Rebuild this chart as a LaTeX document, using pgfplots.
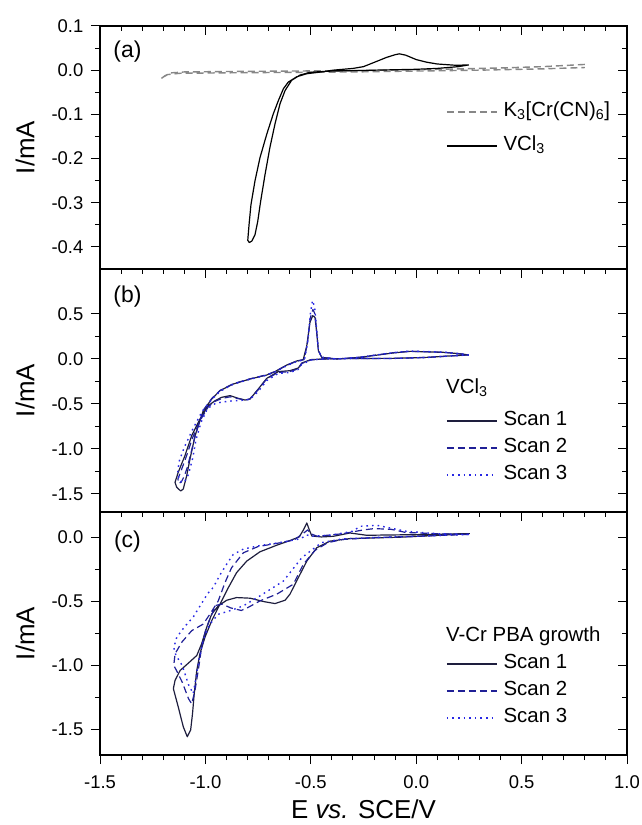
\documentclass[border=0pt]{standalone}
\usepackage{fontspec}
\setmainfont{Liberation Sans}
\usepackage{pgfplots}
\pgfplotsset{compat=1.18}
\definecolor{scanA}{RGB}{30,30,62}
\definecolor{scanB}{RGB}{32,32,150}
\definecolor{scanC}{RGB}{40,40,228}
\definecolor{kgray}{RGB}{135,135,135}
\pgfplotsset{
  cv/.style={
    width=527bp, height=243bp, scale only axis,
    xmin=-1.5, xmax=1.0,
    xtick={-1.5,-1.0,-0.5,0,0.5,1.0},
    minor x tick num=4, minor y tick num=1,
    tick align=center,
    major tick length=9bp, minor tick length=5bp,
    every major x tick/.append style={yshift=-4.5bp},
    every minor x tick/.append style={yshift=-2.5bp},
    every major y tick/.append style={xshift=-4.5bp},
    every minor y tick/.append style={xshift=-2.5bp},
    every tick/.append style={line width=1bp, black},
    axis line style={line width=1.1bp},
    ticklabel style={font=\fontsize{18.5}{18.5}\selectfont},
    /pgf/number format/assume math mode=true,
    /pgf/number format/fixed, /pgf/number format/fixed zerofill,
    /pgf/number format/precision=1,
    yticklabel style={anchor=east, inner sep=0pt, xshift=-12bp},
    xticklabel style={anchor=north, inner sep=0pt, yshift=-16bp},
    ylabel={I/mA},
    ylabel style={at={(axis description cs:-0.142,0.5)}, anchor=center, font=\fontsize{26}{26}\selectfont},
    xlabel style={at={(axis description cs:0.5,-0.262)}, anchor=base, inner sep=0pt, font=\fontsize{26}{26}\selectfont},
    legend cell align=left,
    legend image code/.code={\draw[##1] (0bp,0bp) -- (50bp,0bp);},
    every axis plot/.append style={line width=1.2bp, line join=round},
  },
  leg/.style={legend style={at={(axis description cs:0.6565,#1)}, anchor=west, draw=none, fill=none,
     inner sep=0pt, row sep=8.5bp, column sep=6bp,
     nodes={inner sep=0pt, text height=14bp, text depth=4.5bp, font=\fontsize{20.5}{20.5}\selectfont}}},
}
\begin{document}
\begin{tikzpicture}
\useasboundingbox (0,0) rectangle (642bp,825bp);
% ---------------- panel (a)
\begin{axis}[cv, at={(100bp,556bp)}, anchor=south west,
  ymin=-0.45, ymax=0.1, ytick={-0.4,-0.3,-0.2,-0.1,0,0.1}, xticklabels={},
  leg=0.576, legend style={row sep=15.5bp}]
\addplot[kgray, dash pattern=on 7bp off 4bp, line width=1.4bp] coordinates {
(0.80,0.013) (0.60,0.008) (0.40,0.005) (0.20,0.003) (0.00,0.001) (-0.30,-0.001) (-0.60,-0.002)
(-0.90,-0.003) (-1.10,-0.004) (-1.16,-0.006) (-1.19,-0.012) (-1.21,-0.019) (-1.18,-0.010)
(-1.12,-0.007) (-0.90,-0.006) (-0.60,-0.005) (-0.30,-0.004) (0.00,-0.002) (0.30,0.000)
(0.60,0.003) (0.80,0.006)};
\addlegendentry{K\textsubscript{3}[Cr(CN)\textsubscript{6}]}
\addplot[black] coordinates {
(0.25,0.012) (0.20,0.008) (0.10,0.004) (0.00,0.002) (-0.10,0.001) (-0.20,0.000) (-0.30,-0.001)
(-0.40,-0.002) (-0.48,-0.004) (-0.504,-0.005) (-0.551,-0.011) (-0.591,-0.023) (-0.622,-0.046)
(-0.646,-0.076) (-0.670,-0.122) (-0.694,-0.175) (-0.717,-0.236) (-0.738,-0.297) (-0.752,-0.343)
(-0.765,-0.373) (-0.780,-0.387) (-0.792,-0.390) (-0.799,-0.385) (-0.793,-0.350) (-0.784,-0.305)
(-0.765,-0.251) (-0.741,-0.198) (-0.709,-0.145) (-0.678,-0.099) (-0.654,-0.069) (-0.630,-0.042)
(-0.607,-0.027) (-0.567,-0.015) (-0.519,-0.008) (-0.45,-0.004) (-0.395,0.000) (-0.30,0.004)
(-0.25,0.008) (-0.187,0.020) (-0.14,0.029) (-0.10,0.035) (-0.08,0.037) (-0.05,0.034)
(0.00,0.024) (0.05,0.018) (0.10,0.014) (0.19,0.011) (0.25,0.012)};
\addlegendentry{VCl\textsubscript{3}}
\node[font=\fontsize{23}{23}\selectfont] at (axis description cs:0.052,0.893) {(a)};
\end{axis}
% ---------------- panel (b)
\begin{axis}[cv, at={(100bp,313bp)}, anchor=south west,
  ymin=-1.7, ymax=1.0, ytick={-1.5,-1.0,-0.5,0,0.5}, xticklabels={},
  leg=0.263]
\addplot[scanA] coordinates {
(0.25,0.045) (0.18,0.037) (0.05,0.018) (-0.11,0.007) (-0.31,0.006) (-0.44,0.000) (-0.50,-0.007)
(-0.543,-0.045) (-0.559,-0.10) (-0.599,-0.13) (-0.654,-0.14) (-0.709,-0.215) (-0.749,-0.333)
(-0.788,-0.444) (-0.812,-0.456) (-0.844,-0.437) (-0.883,-0.407) (-0.923,-0.426) (-0.954,-0.463)
(-0.986,-0.519) (-1.026,-0.667) (-1.065,-0.852) (-1.097,-1.074) (-1.129,-1.26) (-1.144,-1.37)
(-1.136,-1.426) (-1.117,-1.467) (-1.105,-1.444) (-1.089,-1.30) (-1.073,-1.11) (-1.049,-0.852)
(-1.010,-0.574) (-0.970,-0.444) (-0.931,-0.352) (-0.868,-0.278) (-0.788,-0.222) (-0.709,-0.178)
(-0.670,-0.140) (-0.614,-0.067) (-0.567,-0.022) (-0.536,-0.007) (-0.519,0.148) (-0.504,0.407)
(-0.491,0.481) (-0.480,0.463) (-0.472,0.296) (-0.464,0.093) (-0.448,0.018) (-0.377,0.000)
(-0.267,0.018) (-0.109,0.067) (-0.029,0.085) (0.129,0.074) (0.20,0.060) (0.25,0.045)};
\addlegendentry{Scan 1}
\addplot[scanB, dash pattern=on 7bp off 4bp] coordinates {
(0.25,0.045) (0.18,0.036) (0.05,0.017) (-0.11,0.006) (-0.31,0.005) (-0.44,0.000) (-0.50,-0.010)
(-0.543,-0.05) (-0.560,-0.11) (-0.600,-0.14) (-0.655,-0.15) (-0.709,-0.22) (-0.749,-0.34)
(-0.790,-0.445) (-0.812,-0.455) (-0.845,-0.44) (-0.883,-0.42) (-0.923,-0.44) (-0.954,-0.47)
(-0.986,-0.53) (-1.024,-0.68) (-1.060,-0.87) (-1.090,-1.08) (-1.115,-1.24) (-1.13,-1.33)
(-1.128,-1.38) (-1.115,-1.37) (-1.10,-1.30) (-1.085,-1.20) (-1.070,-1.06) (-1.047,-0.84)
(-1.010,-0.57) (-0.970,-0.44) (-0.931,-0.35) (-0.868,-0.275) (-0.788,-0.22) (-0.709,-0.175)
(-0.670,-0.14) (-0.614,-0.07) (-0.567,-0.025) (-0.532,-0.007) (-0.517,0.16) (-0.503,0.45)
(-0.490,0.55) (-0.480,0.50) (-0.472,0.30) (-0.464,0.09) (-0.448,0.018) (-0.377,0.000)
(-0.267,0.02) (-0.109,0.07) (-0.029,0.086) (0.129,0.075) (0.20,0.060) (0.25,0.045)};
\addlegendentry{Scan 2}
\addplot[scanC, dash pattern=on 1.6bp off 4bp, line width=1.4bp] coordinates {
(0.25,0.045) (0.18,0.036) (0.05,0.017) (-0.11,0.006) (-0.31,0.005) (-0.44,0.000) (-0.50,-0.012)
(-0.543,-0.06) (-0.562,-0.12) (-0.600,-0.15) (-0.655,-0.16) (-0.709,-0.24) (-0.749,-0.36)
(-0.790,-0.45) (-0.83,-0.46) (-0.87,-0.465) (-0.91,-0.475) (-0.95,-0.49) (-0.99,-0.55)
(-1.02,-0.70) (-1.045,-0.90) (-1.06,-1.10) (-1.08,-1.28) (-1.10,-1.37) (-1.12,-1.36)
(-1.132,-1.28) (-1.125,-1.14) (-1.10,-0.98) (-1.06,-0.78) (-1.015,-0.58) (-0.970,-0.45)
(-0.931,-0.36) (-0.868,-0.28) (-0.788,-0.225) (-0.709,-0.18) (-0.670,-0.145) (-0.614,-0.075)
(-0.567,-0.028) (-0.530,-0.008) (-0.515,0.18) (-0.502,0.50) (-0.492,0.65) (-0.482,0.58)
(-0.472,0.32) (-0.464,0.10) (-0.448,0.02) (-0.377,0.000) (-0.267,0.02) (-0.109,0.07)
(-0.029,0.088) (0.129,0.076) (0.20,0.060) (0.25,0.045)};
\addlegendentry{Scan 3}
\node[font=\fontsize{23}{23}\selectfont] at (axis description cs:0.052,0.886) {(b)};
\node[anchor=west, inner sep=0pt, font=\fontsize{20.5}{20.5}\selectfont] at (axis description cs:0.6565,0.51) {VCl\textsubscript{3}};
\end{axis}
% ---------------- panel (c)
\begin{axis}[cv, at={(100bp,70bp)}, anchor=south west,
  ymin=-1.7, ymax=0.2, ytick={-1.5,-1.0,-0.5,0},
  xlabel={E \textit{vs.} SCE/V},
  leg=0.263]
\addplot[scanA] coordinates {
(0.25,0.029) (-0.077,0.003) (-0.314,-0.008) (-0.409,-0.028) (-0.472,-0.08) (-0.519,-0.184)
(-0.551,-0.287) (-0.567,-0.339) (-0.599,-0.443) (-0.622,-0.490) (-0.670,-0.516) (-0.725,-0.500)
(-0.788,-0.474) (-0.852,-0.469) (-0.899,-0.490) (-0.939,-0.534) (-0.970,-0.598) (-0.994,-0.702)
(-1.018,-0.831) (-1.041,-0.922) (-1.081,-0.982) (-1.120,-1.039) (-1.144,-1.117) (-1.152,-1.181)
(-1.129,-1.323) (-1.105,-1.479) (-1.086,-1.557) (-1.070,-1.505) (-1.061,-1.375) (-1.053,-1.22)
(-1.041,-1.039) (-1.026,-0.909) (-1.002,-0.779) (-0.970,-0.650) (-0.931,-0.521) (-0.891,-0.391)
(-0.852,-0.274) (-0.804,-0.184) (-0.741,-0.111) (-0.662,-0.060) (-0.599,-0.023) (-0.555,0.005)
(-0.535,0.06) (-0.519,0.114) (-0.507,0.06) (-0.495,0.012) (-0.45,0.005) (-0.393,0.010)
(-0.314,0.036) (-0.235,0.018) (0.002,0.023) (0.255,0.031)};
\addlegendentry{Scan 1}
\addplot[scanB, dash pattern=on 7bp off 4bp] coordinates {
(0.25,0.025) (0.0,0.010) (-0.2,0.000) (-0.35,-0.015) (-0.42,-0.04) (-0.48,-0.10) (-0.536,-0.21)
(-0.583,-0.365) (-0.662,-0.443) (-0.741,-0.495) (-0.804,-0.552) (-0.83,-0.57) (-0.88,-0.55)
(-0.92,-0.52) (-0.95,-0.53) (-0.975,-0.62) (-1.0,-0.73) (-1.018,-0.857) (-1.034,-1.04)
(-1.05,-1.2) (-1.065,-1.30) (-1.08,-1.26) (-1.11,-1.13) (-1.14,-1.03) (-1.15,-1.0)
(-1.144,-0.909) (-1.112,-0.818) (-1.065,-0.728) (-1.01,-0.676) (-0.975,-0.59) (-0.939,-0.495)
(-0.907,-0.352) (-0.876,-0.236) (-0.82,-0.119) (-0.75,-0.07) (-0.66,-0.045) (-0.58,-0.02)
(-0.53,0.04) (-0.515,0.06) (-0.50,0.03) (-0.47,0.01) (-0.35,0.03) (-0.25,0.06) (-0.2,0.07)
(-0.12,0.065) (-0.05,0.04) (0.1,0.03) (0.25,0.025)};
\addlegendentry{Scan 2}
\addplot[scanC, dash pattern=on 1.6bp off 4bp, line width=1.4bp] coordinates {
(0.25,0.025) (0.0,0.010) (-0.2,0.000) (-0.35,-0.01) (-0.45,-0.04) (-0.543,-0.158) (-0.63,-0.34)
(-0.741,-0.456) (-0.82,-0.534) (-0.88,-0.57) (-0.94,-0.60) (-0.98,-0.68) (-1.01,-0.80)
(-1.03,-0.95) (-1.045,-1.10) (-1.058,-1.22) (-1.08,-1.15) (-1.11,-1.0) (-1.14,-0.92)
(-1.15,-0.86) (-1.136,-0.78) (-1.10,-0.70) (-1.057,-0.62) (-1.02,-0.52) (-0.99,-0.44)
(-0.963,-0.39) (-0.93,-0.29) (-0.90,-0.21) (-0.868,-0.132) (-0.82,-0.09) (-0.75,-0.065)
(-0.65,-0.04) (-0.55,-0.01) (-0.52,0.02) (-0.49,0.01) (-0.40,0.02) (-0.30,0.05) (-0.267,0.088)
(-0.187,0.096) (-0.109,0.07) (-0.045,0.049) (0.1,0.03) (0.25,0.025)};
\addlegendentry{Scan 3}
\node[font=\fontsize{23}{23}\selectfont] at (axis description cs:0.052,0.878) {(c)};
\node[anchor=west, inner sep=0pt, font=\fontsize{20.5}{20.5}\selectfont] at (axis description cs:0.6565,0.487) {V-Cr PBA growth};
\end{axis}
\end{tikzpicture}
\end{document}
